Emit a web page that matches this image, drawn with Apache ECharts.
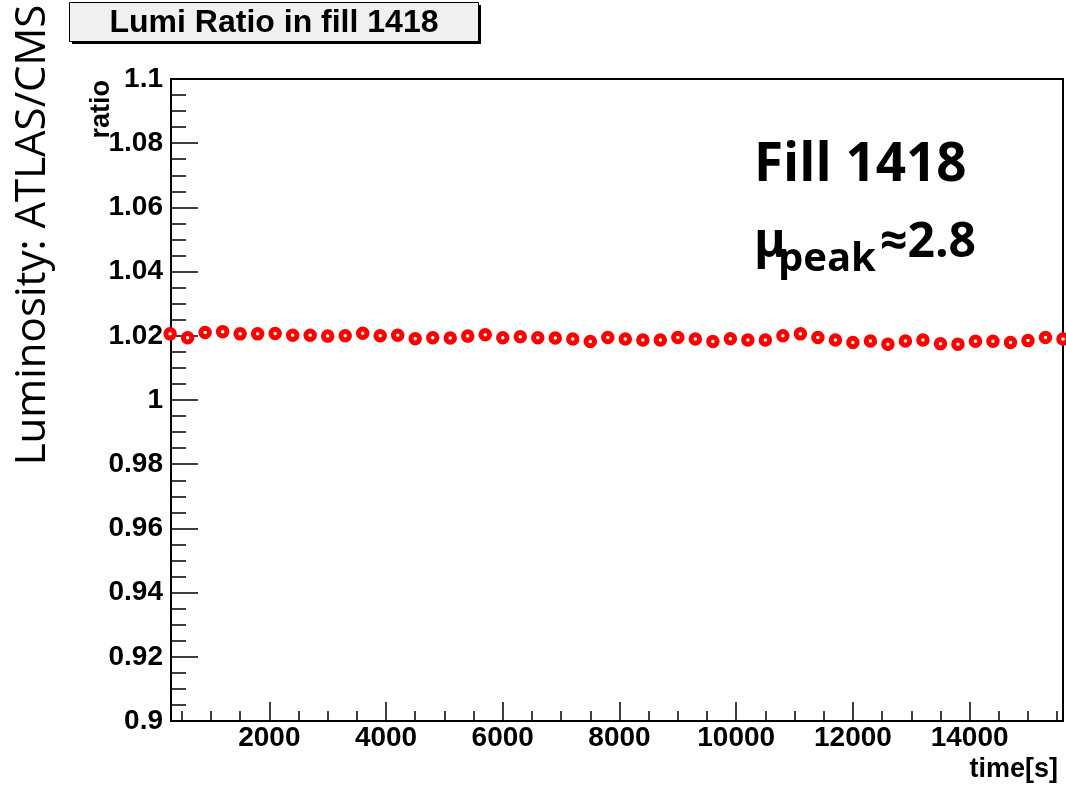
<!DOCTYPE html>
<html>
<head>
<meta charset="utf-8">
<script src="https://cdn.jsdelivr.net/npm/echarts@6/dist/echarts.min.js"></script>
<style>
  html, body { margin: 0; padding: 0; background: #ffffff; }
  #chart { width: 1066px; height: 787px; }
</style>
</head>
<body>
<div id="chart"></div>
<script>
// Time of each measurement in the fill (seconds)
const times = [
  300, 600, 900, 1200, 1500, 1800, 2100, 2400, 2700, 3000,
  3300, 3600, 3900, 4200, 4500, 4800, 5100, 5400, 5700, 6000,
  6300, 6600, 6900, 7200, 7500, 7800, 8100, 8400, 8700, 9000,
  9300, 9600, 9900, 10200, 10500, 10800, 11100, 11400, 11700, 12000,
  12300, 12600, 12900, 13200, 13500, 13800, 14100, 14400, 14700, 15000,
  15300, 15600
];

// ATLAS / CMS luminosity ratio at each time
const ratios = [
  1.0206, 1.0194, 1.0210, 1.0213, 1.0206, 1.0206, 1.0207, 1.0202, 1.0202, 1.0199,
  1.0200, 1.0208, 1.0200, 1.0202, 1.0191, 1.0194, 1.0193, 1.0199, 1.0203, 1.0194,
  1.0197, 1.0194, 1.0193, 1.0190, 1.0182, 1.0195, 1.0190, 1.0187, 1.0187, 1.0195,
  1.0190, 1.0182, 1.0191, 1.0187, 1.0187, 1.0200, 1.0206, 1.0195, 1.0187, 1.0179,
  1.0184, 1.0174, 1.0184, 1.0187, 1.0175, 1.0174, 1.0183, 1.0183, 1.0179, 1.0185,
  1.0195, 1.0190
];

// Axis ranges and tick positions
const xRange = [315, 15600];
const xMajorTicks = [2000, 4000, 6000, 8000, 10000, 12000, 14000];
const xMinorTicks = [
  500, 1000, 1500, 2500, 3000, 3500, 4500, 5000, 5500, 6500, 7000, 7500,
  8500, 9000, 9500, 10500, 11000, 11500, 12500, 13000, 13500, 14500, 15000, 15500
];
const yRange = [0.9, 1.1];
const yStep = 0.02;

// Texts
const titleText = 'Lumi Ratio in fill 1418';
const xTitle = 'time[s]';
const yTitle = 'ratio';
const sideTitle = 'Luminosity: ATLAS/CMS';
const fillText = 'Fill 1418';
const muSymbol = '\u03bc';
const muSub = 'peak';
const muValue = '\u22482.8';

const points = times.map((t, i) => [t, ratios[i]]);

const axisFont = '"Liberation Sans", Arial, sans-serif';
const noteFont = '"Open Sans", "Noto Sans", sans-serif';

const chart = echarts.init(document.getElementById('chart'), null, { renderer: 'canvas' });

chart.setOption({
  animation: false,
  backgroundColor: '#ffffff',
  grid: {
    left: 171, top: 79, right: 3, bottom: 66,
    show: true, borderColor: '#000', borderWidth: 2, backgroundColor: 'transparent'
  },
  xAxis: [
    {
      // labelled axis with the long ticks
      type: 'value', min: xRange[0], max: xRange[1], position: 'bottom',
      axisLine: { show: true, onZero: false, lineStyle: { color: '#000', width: 2 } },
      axisTick: { show: true, inside: true, length: 19, customValues: xMajorTicks,
        lineStyle: { color: '#000', width: 1.5 } },
      axisLabel: { show: true, customValues: xMajorTicks, margin: 3,
        fontSize: 28, fontWeight: 'bold', color: '#000', fontFamily: axisFont,
        formatter: v => String(v) },
      splitLine: { show: false }
    },
    {
      // companion axis carrying only the short ticks
      type: 'value', min: xRange[0], max: xRange[1], position: 'bottom',
      axisLine: { show: false },
      axisTick: { show: true, inside: true, length: 10, customValues: xMinorTicks,
        lineStyle: { color: '#000', width: 1.5 } },
      axisLabel: { show: false },
      splitLine: { show: false }
    }
  ],
  yAxis: {
    type: 'value', min: yRange[0], max: yRange[1], interval: yStep,
    axisLine: { show: true, onZero: false, lineStyle: { color: '#000', width: 2 } },
    axisTick: { show: true, inside: true, length: 27, lineStyle: { color: '#000', width: 1.5 } },
    minorTick: { show: true, splitNumber: 4, length: 15, lineStyle: { color: '#000', width: 1.5 } },
    axisLabel: { margin: 8, fontSize: 28, fontWeight: 'bold', color: '#000', fontFamily: axisFont,
      formatter: v => String(parseFloat(v.toFixed(2))) },
    splitLine: { show: false }
  },
  series: [{
    type: 'scatter',
    xAxisIndex: 0,
    data: points,
    clip: false,
    symbol: 'circle',
    symbolSize: 8.5,
    itemStyle: { color: '#ffffff', borderColor: '#ff0000', borderWidth: 5, opacity: 1 }
  }],
  graphic: [
    // title box with its drop shadow
    { type: 'rect', z: 10, shape: { x: 72, y: 5, width: 409, height: 39 }, style: { fill: '#000' } },
    { type: 'rect', z: 11, shape: { x: 69.5, y: 2.5, width: 409, height: 39 },
      style: { fill: '#f0f0f0', stroke: '#000', lineWidth: 1 } },
    { type: 'text', z: 12, x: 274, y: 23,
      style: { text: titleText, align: 'center', verticalAlign: 'middle',
        font: 'bold 32px ' + axisFont, fill: '#000' } },
    // axis titles
    { type: 'text', z: 12, x: 102, y: 80, rotation: Math.PI / 2,
      style: { text: yTitle, align: 'right', verticalAlign: 'middle',
        font: 'bold 27px ' + axisFont, fill: '#000' } },
    { type: 'text', z: 12, x: 1058, y: 770,
      style: { text: xTitle, align: 'right', verticalAlign: 'middle',
        font: 'bold 27px ' + axisFont, fill: '#000' } },
    { type: 'text', z: 12, x: 33, y: 235, rotation: Math.PI / 2,
      style: { text: sideTitle, align: 'center', verticalAlign: 'middle',
        font: '42px ' + noteFont, fill: '#000' } },
    // fill annotation
    { type: 'text', z: 12, x: 754, y: 166,
      style: { text: fillText, align: 'left', verticalAlign: 'middle',
        font: 'bold 53px ' + noteFont, fill: '#000' } },
    { type: 'text', z: 12, x: 754, y: 243,
      style: { text: muSymbol, align: 'left', verticalAlign: 'middle',
        font: 'bold 48px ' + noteFont, fill: '#000' } },
    { type: 'text', z: 12, x: 778, y: 260,
      style: { text: muSub, align: 'left', verticalAlign: 'middle',
        font: 'bold 40px ' + noteFont, fill: '#000' } },
    { type: 'text', z: 12, x: 880, y: 243,
      style: { text: muValue, align: 'left', verticalAlign: 'middle',
        font: 'bold 48px ' + noteFont, fill: '#000' } }
  ]
});
</script>
</body>
</html>
